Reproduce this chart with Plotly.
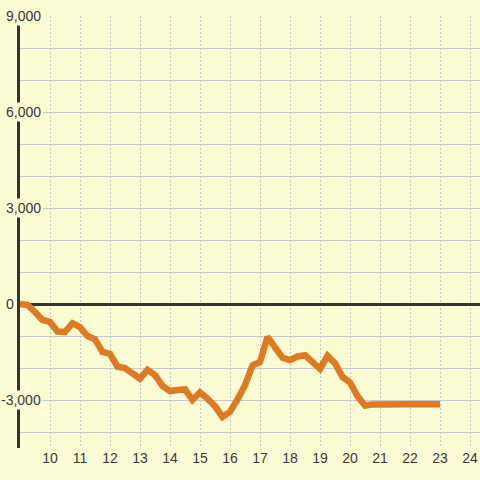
import plotly.graph_objects as go

# Datos
hora = [9.0, 9.25, 9.5, 9.75, 10.0, 10.25, 10.5, 10.75, 11.0, 11.25, 11.5, 11.75,
        12.0, 12.25, 12.5, 12.75, 13.0, 13.25, 13.5, 13.75, 14.0, 14.25, 14.5, 14.75,
        15.0, 15.25, 15.5, 15.75, 16.0, 16.25, 16.5, 16.75, 17.0, 17.25, 17.5, 17.75,
        18.0, 18.25, 18.5, 18.75, 19.0, 19.25, 19.5, 19.75, 20.0, 20.25, 20.5, 20.75,
        21.0, 21.5, 22.0, 22.5, 23.0]
valor = [0, -30, -250, -500, -560, -860, -870, -600, -720, -1000, -1100, -1500,
         -1560, -1960, -2000, -2150, -2330, -2060, -2220, -2560, -2720, -2690, -2670, -3000,
         -2760, -2960, -3190, -3530, -3370, -2980, -2540, -1920, -1810, -1030, -1360, -1680,
         -1750, -1640, -1600, -1790, -2030, -1620, -1850, -2280, -2450, -2880, -3170, -3140,
         -3130, -3130, -3130, -3130, -3130]

x_ticks = list(range(10, 25))
y_labels = [9000, 6000, 3000, 0, -3000]
y_grid = list(range(-4000, 9001, 1000))

BG = '#fcfcd4'
TXT = '#3a3a3a'
FONT = 'Liberation Sans, Arial, sans-serif'

fig = go.Figure()

fig.add_trace(go.Scatter(
    x=hora, y=valor, mode='lines',
    line=dict(color='#df7a22', width=6.5),
    hoverinfo='skip'
))

# Etiquetas del eje Y con fondo (tapan la linea del eje)
for v in y_labels:
    fig.add_annotation(
        x=0, xref='paper', y=v, yref='y',
        text=f'{v:,}',
        showarrow=False, xanchor='right', yanchor='middle',
        xshift=-4 if v == 0 else 23,
        bgcolor=BG if v != 0 else None, borderpad=1,
        font=dict(family=FONT, size=14, color=TXT)
    )

fig.update_layout(
    width=480, height=480,
    margin=dict(l=20, r=0, t=16, b=32),
    paper_bgcolor=BG, plot_bgcolor=BG,
    showlegend=False,
    xaxis=dict(
        range=[9, 24.333], tickvals=x_ticks, ticks='',
        showgrid=True, gridcolor='#c4c4c4', gridwidth=1, griddash='2px,2px',
        zeroline=False, showline=False,
        tickfont=dict(family=FONT, size=14, color=TXT)
    ),
    yaxis=dict(
        range=[-4500, 9000], tickvals=y_grid, showticklabels=False, ticks='',
        showgrid=True, gridcolor='#c8c8c8', gridwidth=1,
        zeroline=True, zerolinecolor='#333333', zerolinewidth=3,
        showline=True, linecolor='#333333', linewidth=3
    )
)

fig.write_html("out.html", config={'displayModeBar': False},
               post_script="document.body.style.margin='0';document.body.style.padding='0';")
